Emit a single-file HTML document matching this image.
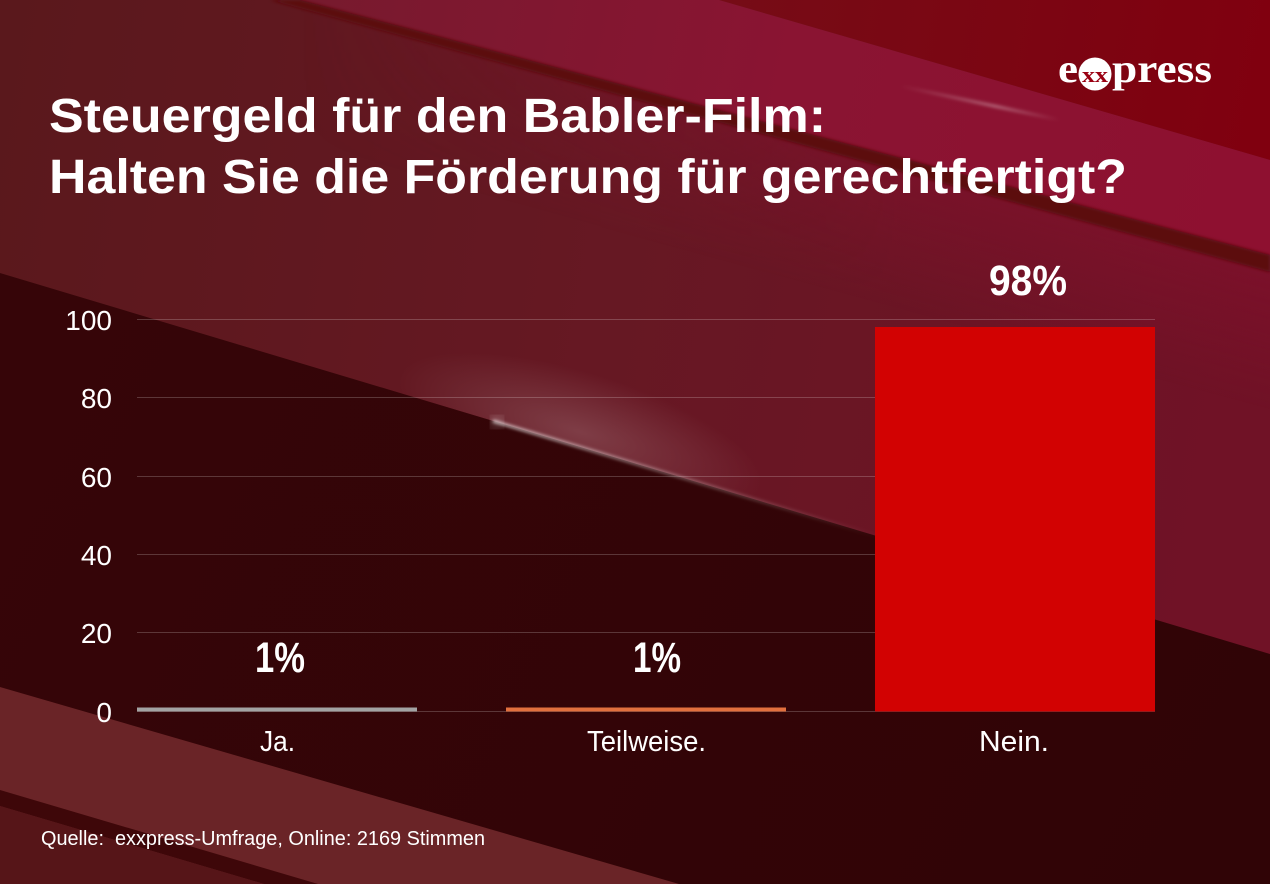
<!DOCTYPE html>
<html><head><meta charset="utf-8"><style>
html,body{margin:0;padding:0;width:1270px;height:884px;overflow:hidden;background:#4a1015}
svg{display:block}
</style></head><body>
<svg width="1270" height="884" viewBox="0 0 1270 884" xmlns="http://www.w3.org/2000/svg">
<defs>
<linearGradient id="base" x1="0" y1="0" x2="1270" y2="200" gradientUnits="userSpaceOnUse">
 <stop offset="0" stop-color="#5a181c"/>
 <stop offset="0.5" stop-color="#661823"/>
 <stop offset="1" stop-color="#701226"/>
</linearGradient>
<linearGradient id="pink" x1="300" y1="0" x2="1270" y2="200" gradientUnits="userSpaceOnUse">
 <stop offset="0" stop-color="#771a2e"/>
 <stop offset="0.5" stop-color="#8a1432"/>
 <stop offset="1" stop-color="#8e1030"/>
</linearGradient>
<linearGradient id="topr" x1="719" y1="0" x2="1270" y2="100" gradientUnits="userSpaceOnUse">
 <stop offset="0" stop-color="#760c16"/>
 <stop offset="1" stop-color="#80000f"/>
</linearGradient>
<linearGradient id="under" x1="900" y1="175" x2="866" y2="300" gradientUnits="userSpaceOnUse">
 <stop offset="0" stop-color="#86102e" stop-opacity="0.5"/>
 <stop offset="1" stop-color="#86102e" stop-opacity="0"/>
</linearGradient>
<linearGradient id="hfade" x1="300" y1="0" x2="900" y2="0" gradientUnits="userSpaceOnUse">
 <stop offset="0" stop-color="#ffffff" stop-opacity="0"/>
 <stop offset="1" stop-color="#ffffff" stop-opacity="1"/>
</linearGradient>
<mask id="underMask" maskUnits="userSpaceOnUse" x="0" y="0" width="1270" height="884">
 <rect x="0" y="0" width="1270" height="884" fill="url(#hfade)"/>
</mask>
<linearGradient id="dark" x1="0" y1="300" x2="1270" y2="884" gradientUnits="userSpaceOnUse">
 <stop offset="0" stop-color="#360508"/>
 <stop offset="1" stop-color="#300406"/>
</linearGradient>
<radialGradient id="glow" cx="0.5" cy="0.5" r="0.5">
 <stop offset="0" stop-color="#ffffff" stop-opacity="0.16"/>
 <stop offset="1" stop-color="#ffffff" stop-opacity="0"/>
</radialGradient>
<linearGradient id="streak" x1="493" y1="421" x2="880" y2="537" gradientUnits="userSpaceOnUse">
 <stop offset="0" stop-color="#ffffff" stop-opacity="0.8"/>
 <stop offset="0.5" stop-color="#ffffff" stop-opacity="0.35"/>
 <stop offset="1" stop-color="#ffffff" stop-opacity="0"/>
</linearGradient>
<linearGradient id="streak2" x1="900" y1="86" x2="1060" y2="120" gradientUnits="userSpaceOnUse">
 <stop offset="0" stop-color="#ffffff" stop-opacity="0"/>
 <stop offset="0.6" stop-color="#ffffff" stop-opacity="0.35"/>
 <stop offset="1" stop-color="#ffffff" stop-opacity="0"/>
</linearGradient>
<clipPath id="aboveC"><polygon points="0,0 1270,0 1270,654 0,273"/></clipPath>
<filter id="blur2"><feGaussianBlur stdDeviation="1.5"/></filter>
<filter id="blur6"><feGaussianBlur stdDeviation="6"/></filter>
</defs>

<!-- background -->
<rect x="0" y="0" width="1270" height="884" fill="url(#base)"/>
<polygon points="270,0 1270,272 1270,700 0,700 0,0" fill="url(#under)" mask="url(#underMask)"/>
<polygon points="719,0 1270,0 1270,160" fill="url(#topr)"/>
<polygon points="300,0 719,0 1270,160 1270,255" fill="url(#pink)"/>
<polygon points="300,0 1270,255 1270,272 270,0" fill="#5c0710" filter="url(#blur2)"/>
<line x1="900" y1="86" x2="1060" y2="120" stroke="url(#streak2)" stroke-width="3" filter="url(#blur2)"/>

<!-- glow -->
<g clip-path="url(#aboveC)">
 <ellipse cx="580" cy="432" rx="190" ry="60" fill="url(#glow)" transform="rotate(17 580 432)"/>
</g>

<!-- dark lower region -->
<polygon points="0,273 1270,654 1270,884 0,884" fill="url(#dark)"/>
<line x1="493" y1="421" x2="880" y2="537" stroke="url(#streak)" stroke-width="2.5" filter="url(#blur2)"/>
<circle cx="497" cy="422" r="6" fill="#ffffff" opacity="0.35" filter="url(#blur6)"/>

<!-- bottom-left bands -->
<polygon points="0,687 679,884 0,884" fill="#6a2427"/>
<polygon points="0,790 318,884 264,884 0,806" fill="#3e0709"/>
<polygon points="0,806 264,884 0,884" fill="#561518"/>

<!-- gridlines -->
<g stroke="#ffffff" stroke-opacity="0.2" stroke-width="1">
 <line x1="137" y1="319.5" x2="1155" y2="319.5"/>
 <line x1="137" y1="397.5" x2="1155" y2="397.5"/>
 <line x1="137" y1="476.5" x2="1155" y2="476.5"/>
 <line x1="137" y1="554.5" x2="1155" y2="554.5"/>
 <line x1="137" y1="632.5" x2="1155" y2="632.5"/>
 <line x1="137" y1="711.5" x2="1155" y2="711.5"/>
</g>

<!-- bars -->
<rect x="137" y="707.5" width="280" height="4" fill="#a3a3a3"/>
<rect x="506" y="707.5" width="280" height="4" fill="#e2703e"/>
<rect x="875" y="327" width="280" height="384.5" fill="#d20202"/>

<!-- y labels -->
<g font-family="Liberation Sans, Arial, sans-serif" font-size="28" fill="#ffffff" text-anchor="end">
 <text x="112" y="330">100</text>
 <text x="112" y="408">80</text>
 <text x="112" y="487">60</text>
 <text x="112" y="565">40</text>
 <text x="112" y="643">20</text>
 <text x="112" y="722">0</text>
</g>

<!-- x labels -->
<g font-family="Liberation Sans, Arial, sans-serif" font-size="29" fill="#ffffff">
 <text x="260" y="751" textLength="35" lengthAdjust="spacingAndGlyphs">Ja.</text>
 <text x="587" y="751" textLength="119" lengthAdjust="spacingAndGlyphs">Teilweise.</text>
 <text x="979" y="751" textLength="70" lengthAdjust="spacingAndGlyphs">Nein.</text>
</g>

<!-- value labels -->
<g font-family="Liberation Sans, Arial, sans-serif" font-size="43" font-weight="bold" fill="#ffffff">
 <text x="255" y="672" textLength="50" lengthAdjust="spacingAndGlyphs">1%</text>
 <text x="633" y="672" textLength="48" lengthAdjust="spacingAndGlyphs">1%</text>
 <text x="989" y="295" textLength="78" lengthAdjust="spacingAndGlyphs">98%</text>
</g>

<!-- title -->
<g font-family="Liberation Sans, Arial, sans-serif" font-weight="bold" font-size="48" fill="#ffffff">
 <text x="49" y="132" textLength="777" lengthAdjust="spacingAndGlyphs">Steuergeld für den Babler-Film:</text>
 <text x="49" y="193" textLength="1078" lengthAdjust="spacingAndGlyphs">Halten Sie die Förderung für gerechtfertigt?</text>
</g>

<!-- logo -->
<g font-family="Liberation Serif, Times New Roman, serif" font-weight="bold" fill="#ffffff">
 <text x="1058" y="82" font-size="40" textLength="20" lengthAdjust="spacingAndGlyphs">e</text>
 <circle cx="1095" cy="74" r="16.5" fill="#ffffff"/>
 <text x="1095" y="82" font-size="22" fill="#9a0012" text-anchor="middle" textLength="26" lengthAdjust="spacingAndGlyphs">xx</text>
 <text x="1112" y="82" font-size="40" textLength="100" lengthAdjust="spacingAndGlyphs">press</text>
</g>

<!-- footer -->
<text x="41" y="845" font-family="Liberation Sans, Arial, sans-serif" font-size="20" fill="#ffffff" textLength="444" lengthAdjust="spacingAndGlyphs">Quelle:&#160; exxpress-Umfrage, Online: 2169 Stimmen</text>
</svg>
</body></html>
